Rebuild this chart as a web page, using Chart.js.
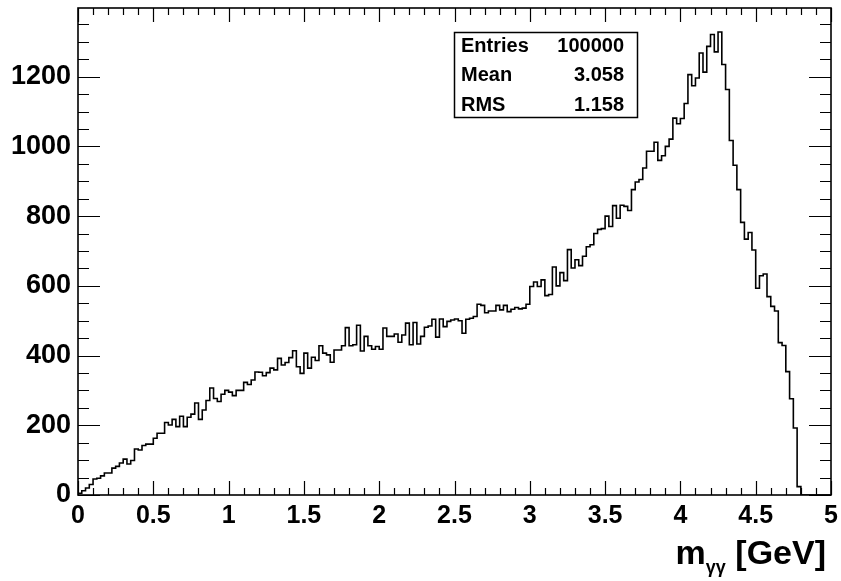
<!DOCTYPE html>
<html>
<head>
<meta charset="utf-8">
<script src="https://cdn.jsdelivr.net/npm/chart.js@4.4.1/dist/chart.umd.min.js"></script>
<style>
  html, body { margin: 0; padding: 0; background: #fff; }
  #wrap { width: 841px; height: 581px; }
</style>
</head>
<body>
<div id="wrap"><canvas id="massChart"></canvas></div>
<script>
// histogram: 200 bins from 0 to 5 GeV
const binLow = 0;
const binWidth = 0.025;
const counts = [
    5, 12, 20, 30, 46, 48, 55, 63, 63, 77,
    82, 92, 103, 89, 99, 132, 129, 142, 146, 146,
    163, 177, 177, 208, 201, 217, 196, 226, 196, 223,
    232, 264, 217, 244, 271, 307, 277, 268, 289, 300,
    295, 285, 300, 300, 323, 317, 330, 353, 352, 342,
    351, 364, 359, 392, 373, 380, 394, 414, 368, 349,
    407, 364, 395, 386, 428, 407, 402, 381, 416, 416,
    428, 480, 428, 431, 487, 413, 455, 428, 418, 426,
    418, 479, 455, 455, 462, 438, 459, 493, 431, 495,
    433, 455, 481, 485, 504, 453, 505, 483, 498, 502,
    505, 500, 464, 504, 507, 512, 547, 544, 523, 528,
    528, 544, 531, 544, 526, 533, 538, 534, 536, 547,
    598, 611, 598, 617, 572, 575, 654, 600, 638, 615,
    704, 651, 675, 658, 685, 712, 718, 750, 762, 764,
    800, 770, 830, 794, 831, 828, 816, 876, 898, 905,
    938, 986, 986, 1012, 960, 973, 1000, 1021, 1081, 1065,
    1080, 1123, 1206, 1174, 1196, 1268, 1213, 1287, 1321, 1271,
    1328, 1235, 1163, 1017, 946, 876, 782, 734, 753, 703,
    593, 629, 634, 569, 541, 528, 437, 429, 354, 276,
    192, 24, 0, 0, 0, 0, 0, 0, 0, 0
];
const xTicks = [0, 0.5, 1, 1.5, 2, 2.5, 3, 3.5, 4, 4.5, 5];
const yTicks = [0, 200, 400, 600, 800, 1000, 1200];
const yMax = 1397;
const statsLabels = ['Entries', 'Mean', 'RMS'];
const statsValues = ['100000', '3.058', '1.158'];

const FONT = '"Liberation Sans", Arial, Helvetica, sans-serif';

// outline points at bin low edges, closed at the last edge
const points = [{ x: binLow, y: 0 }];
counts.forEach((c, i) => points.push({ x: binLow + i * binWidth, y: c }));
points.push({ x: binLow + counts.length * binWidth, y: counts[counts.length - 1] });

// frame, inward ticks on all four sides, stats box and axis title
const rootFrame = {
    id: 'rootFrame',
    afterDatasetsDraw(chart) {
        const { ctx, chartArea: a, scales: { x, y } } = chart;
        ctx.save();
        ctx.strokeStyle = '#000';
        ctx.lineWidth = 1.2;
        ctx.beginPath();
        for (let i = 0; i <= 50; i++) {
            const px = Math.round(x.getPixelForValue(i / 10)) + 0.5;
            const len = i % 5 === 0 ? 14 : 7;
            ctx.moveTo(px, a.bottom); ctx.lineTo(px, a.bottom - len);
            ctx.moveTo(px, a.top); ctx.lineTo(px, a.top + len);
        }
        for (let v = 0; v <= yMax; v += 50) {
            const py = Math.round(y.getPixelForValue(v)) + 0.5;
            const len = v % 200 === 0 ? 22 : 11;
            ctx.moveTo(a.left, py); ctx.lineTo(a.left + len, py);
            ctx.moveTo(a.right, py); ctx.lineTo(a.right - len, py);
        }
        ctx.stroke();

        ctx.lineWidth = 1.6;
        ctx.strokeRect(a.left, a.top, a.right - a.left, a.bottom - a.top);

        // stats box
        ctx.fillStyle = '#fff';
        ctx.fillRect(454, 32, 183, 85);
        ctx.lineWidth = 1.5;
        ctx.strokeRect(454.5, 32.5, 183, 85);
        ctx.fillStyle = '#000';
        ctx.font = 'bold 20px ' + FONT;
        ctx.textBaseline = 'middle';
        statsLabels.forEach((lab, i) => {
            const ty = 46 + i * 29.5;
            ctx.textAlign = 'left';
            ctx.fillText(lab, 461, ty);
            ctx.textAlign = 'right';
            ctx.fillText(statsValues[i], 624, ty);
        });

        // x axis title with subscript
        ctx.textBaseline = 'alphabetic';
        ctx.textAlign = 'left';
        ctx.font = 'bold 34px ' + FONT;
        const rightEdge = 826;
        const tail = ' [GeV]';
        const wTail = ctx.measureText(tail).width;
        const wM = ctx.measureText('m').width;
        ctx.font = 'bold 18px ' + FONT;
        const wSub = ctx.measureText('γγ').width;
        let tx = rightEdge - wTail - wSub - wM;
        ctx.font = 'bold 34px ' + FONT;
        ctx.fillText('m', tx, 564);
        tx += wM;
        ctx.font = 'bold 18px ' + FONT;
        ctx.fillText('γγ', tx, 573);
        tx += wSub;
        ctx.font = 'bold 34px ' + FONT;
        ctx.fillText(tail, tx, 564);
        ctx.restore();
    }
};

new Chart(document.getElementById('massChart').getContext('2d'), {
    type: 'line',
    data: {
        datasets: [{
            data: points,
            borderColor: '#000',
            borderWidth: 1.6,
            pointRadius: 0,
            stepped: 'before',
            fill: false,
            tension: 0
        }]
    },
    options: {
        responsive: true,
        maintainAspectRatio: false,
        animation: false,
        events: [],
        layout: { padding: { top: 8, right: 10, left: 0, bottom: 0 } },
        plugins: {
            legend: { display: false },
            tooltip: { enabled: false }
        },
        scales: {
            x: {
                type: 'linear',
                min: 0,
                max: 5,
                afterBuildTicks: axis => { axis.ticks = xTicks.map(v => ({ value: v })); },
                afterFit: axis => {
                    axis.height = 86;
                    axis.paddingLeft = 0;
                    axis.paddingRight = 0;
                },
                grid: { display: false, drawTicks: false },
                border: { display: false },
                ticks: {
                    color: '#000',
                    padding: 6,
                    maxRotation: 0,
                    autoSkip: false,
                    font: { family: FONT, size: 25, weight: 'bold' },
                    callback: value => String(value)
                }
            },
            y: {
                min: 0,
                max: yMax,
                afterBuildTicks: axis => { axis.ticks = yTicks.map(v => ({ value: v })); },
                afterFit: axis => {
                    axis.width = 78;
                    axis.paddingTop = 0;
                    axis.paddingBottom = 0;
                },
                grid: { display: false, drawTicks: false },
                border: { display: false },
                ticks: {
                    color: '#000',
                    padding: 7,
                    autoSkip: false,
                    font: { family: FONT, size: 27, weight: 'bold' },
                    callback: value => String(value)
                }
            }
        }
    },
    plugins: [rootFrame]
});
</script>
</body>
</html>
